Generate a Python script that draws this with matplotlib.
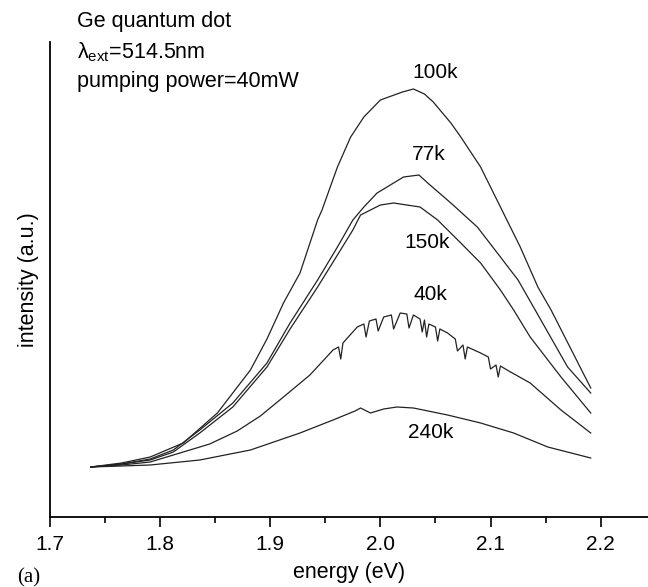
import numpy as np
import matplotlib.pyplot as plt
from matplotlib.ticker import MultipleLocator

plt.rcParams["font.family"] = "Liberation Sans"
plt.rcParams["mathtext.fontset"] = "custom"
plt.rcParams["mathtext.rm"] = "Liberation Sans"
plt.rcParams["mathtext.it"] = "Liberation Sans"

# Photoluminescence spectra (energy in eV, intensity in a.u.)
e_100k = [1.737, 1.765, 1.791, 1.821, 1.852, 1.882, 1.897, 1.912, 1.927, 1.943, 1.947, 1.961,
          1.973, 1.985, 2.000, 2.010, 2.020, 2.030, 2.040, 2.048, 2.064, 2.073, 2.091, 2.109,
          2.127, 2.143, 2.155, 2.173, 2.191]
i_100k = [50, 54, 60, 74, 104, 147, 178, 214, 244, 297, 307, 350,
          380, 400, 417, 421, 425, 428, 423, 415, 394, 380, 350, 310,
          270, 230, 207, 168, 129]

e_77k = [1.737, 1.765, 1.791, 1.812, 1.836, 1.866, 1.897, 1.918, 1.943, 1.961, 1.975, 1.985,
         1.997, 2.012, 2.021, 2.035, 2.043, 2.064, 2.088, 2.109, 2.125, 2.139, 2.170, 2.191]
i_77k = [50, 53, 58, 67, 87, 114, 154, 194, 237, 270, 297, 310,
         324, 334, 340, 342, 334, 314, 290, 260, 237, 210, 150, 124]

e_150k = [1.737, 1.765, 1.791, 1.812, 1.836, 1.866, 1.897, 1.918, 1.943, 1.961, 1.975, 1.982,
          2.000, 2.012, 2.036, 2.052, 2.073, 2.091, 2.109, 2.121, 2.136, 2.164, 2.191]
i_150k = [50, 53, 57, 65, 84, 110, 150, 188, 230, 262, 287, 302,
          312, 314, 310, 297, 274, 254, 227, 207, 180, 140, 104]

e_40k = [1.737, 1.765, 1.791, 1.821, 1.845, 1.870, 1.891, 1.912, 1.936, 1.957, 1.962, 1.964,
         1.966, 1.979, 1.985, 1.987, 1.990, 1.996, 1.998, 2.003, 2.010, 2.012, 2.018, 2.024,
         2.026, 2.030, 2.036, 2.038, 2.040, 2.042, 2.044, 2.050, 2.052, 2.054, 2.061, 2.068,
         2.070, 2.075, 2.077, 2.079, 2.091, 2.098, 2.100, 2.105, 2.107, 2.109, 2.115, 2.136,
         2.164, 2.191]
i_40k = [50, 52, 55, 65, 73, 86, 101, 120, 142, 167, 170, 158,
         174, 190, 193, 180, 196, 198, 186, 200, 202, 188, 204, 203,
         189, 202, 198, 185, 197, 180, 193, 190, 176, 188, 184, 178,
         166, 172, 158, 170, 164, 160, 148, 152, 140, 151, 147, 134,
         107, 84]

e_240k = [1.737, 1.765, 1.791, 1.836, 1.882, 1.927, 1.957, 1.977, 1.982, 1.991, 2.003, 2.015,
          2.030, 2.061, 2.091, 2.121, 2.152, 2.191]
i_240k = [50, 51, 52, 57, 67, 84, 97, 106, 109, 104, 108, 110,
          109, 102, 94, 84, 70, 59]

series = [(e_100k, i_100k), (e_77k, i_77k), (e_150k, i_150k), (e_40k, i_40k), (e_240k, i_240k)]

# curve labels: text, energy, intensity
labels = ["100k", "77k", "150k", "40k", "240k"]
label_e = [2.050, 2.044, 2.042, 2.045, 2.046]
label_i = [445, 362, 274, 223, 84]

W, H = 648, 587
fig = plt.figure(figsize=(W / 100, H / 100), dpi=100)
ax = fig.add_axes([50 / W, 1 - 517 / H, 1 - 50 / W, (517 - 42) / H])

for e, i in series:
    ax.plot(e, i, color="#222222", lw=0.9)

for t, x, y in zip(labels, label_e, label_i):
    ax.text(x, y, t, fontsize=15, ha="center", va="center")

ax.set_xlim(1.7, 2.243)
ax.set_ylim(0, 475)
ax.xaxis.set_major_locator(MultipleLocator(0.1))
ax.xaxis.set_minor_locator(MultipleLocator(0.05))
ax.set_yticks([])
ax.tick_params(axis="x", which="major", direction="out", length=7, width=1.2, labelsize=15, pad=6)
ax.tick_params(axis="x", which="minor", direction="out", length=4, width=1.2)
for s in ["top", "right"]:
    ax.spines[s].set_visible(False)
for s in ["left", "bottom"]:
    ax.spines[s].set_linewidth(1.3)

ax.set_xlabel("energy (eV)", fontsize=15.5, labelpad=6)
ax.set_ylabel("intensity (a.u.)", fontsize=15.5, labelpad=8)

# header text
fig.text(77 / W, 1 - 27 / H, "Ge quantum dot", fontsize=15.5, va="baseline")
fig.text(77 / W, 1 - 58 / H, r"$\mathrm{λ}_{\mathrm{ext}}$=514.5nm", fontsize=15.5, va="baseline")
fig.text(77 / W, 1 - 87 / H, "pumping power=40mW", fontsize=15.5, va="baseline")
fig.text(17 / W, 1 - 582 / H, "(a)", fontsize=15, family="Liberation Serif", va="baseline")

fig.savefig("out.png", dpi=100)
